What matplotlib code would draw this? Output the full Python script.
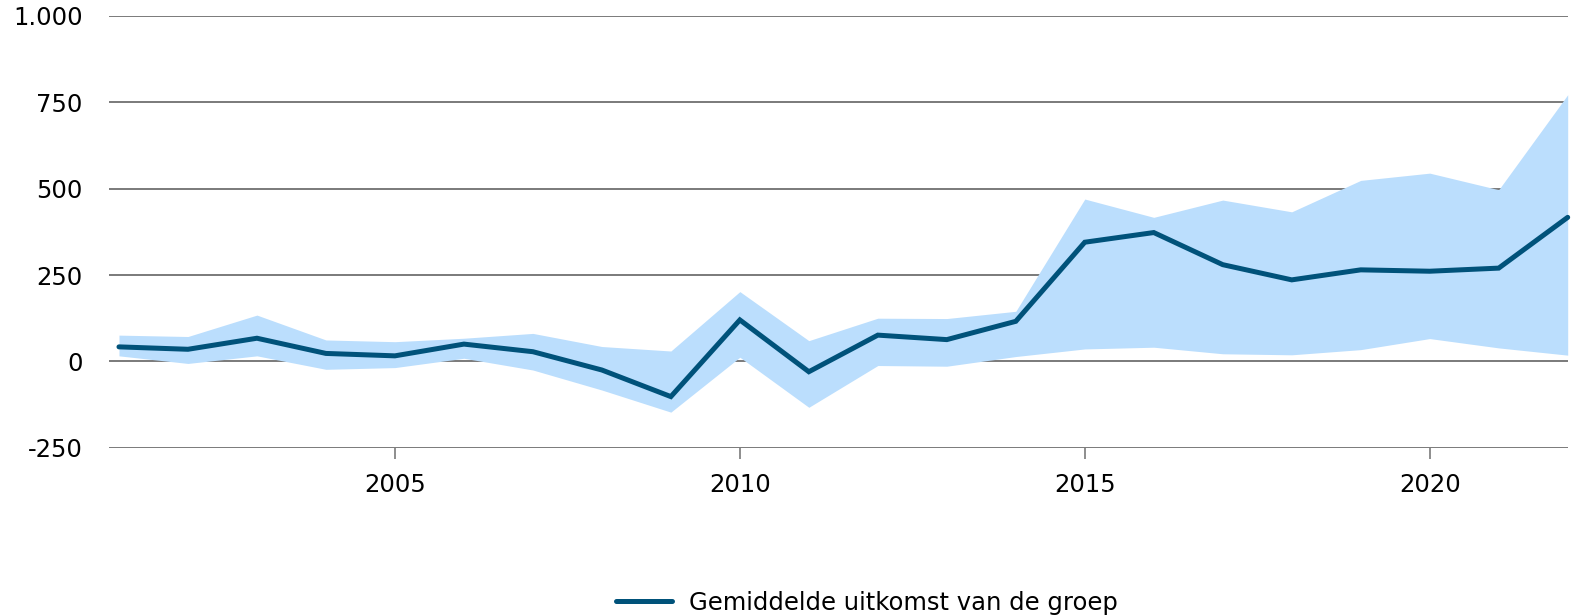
import numpy as np
import matplotlib
matplotlib.use("Agg")
import matplotlib.pyplot as plt

years = list(range(2001, 2023))
mean = [42, 35, 67, 23, 16, 50, 28, -25, -102, 120, -30, 76,
        63, 116, 345, 373, 280, 236, 265, 261, 270, 417]
upper = [76, 72, 134, 62, 57, 67, 81, 43, 30, 202, 60, 125,
         124, 145, 470, 417, 467, 433, 524, 545, 497, 772]
lower = [16, -6, 16, -23, -18, 9, -25, -83, -147, 12, -133, -12,
         -14, 14, 36, 41, 22, 19, 34, 66, 39, 18]
yticks = [-250, 0, 250, 500, 750, 1000]
ytick_labels = ['-250', '0', '250', '500', '750', '1.000']
xticks = [2005, 2010, 2015, 2020]

line_color = '#00527a'
band_color = '#bbdefd'
grid_color = '#7a7a7a'
fs = 17.5

fig = plt.figure(figsize=(15.77, 6.15), dpi=100)
ax = fig.add_axes([0.0691, 0.272, 0.925, 0.702])

ax.fill_between(years, lower, upper, color=band_color, linewidth=0, zorder=2)
ax.plot(years, mean, color=line_color, lw=3.6, solid_capstyle='round',
        solid_joinstyle='miter', zorder=3, clip_on=False,
        label='Gemiddelde uitkomst van de groep')

ax.set_xlim(2000.855, 2022.0)
ax.set_ylim(-250, 1000)
ax.set_yticks(yticks)
ax.set_yticklabels(ytick_labels)
ax.set_xticks(xticks)
ax.set_xticklabels([str(x) for x in xticks])

for y in yticks:
    ax.axhline(y, color=grid_color, lw=1.4, zorder=1)

for s in ax.spines.values():
    s.set_visible(False)

ax.tick_params(axis='y', length=0, pad=19, labelsize=fs, labelcolor='black')
ax.tick_params(axis='x', length=8, width=1.2, color=grid_color, pad=10,
               labelsize=fs, labelcolor='black')

fig.legend(loc='center', bbox_to_anchor=(0.5495, 1 - 603 / 615), frameon=False,
           fontsize=fs, handlelength=2.3, handletextpad=0.7)

fig.savefig('out.png', dpi=100)
